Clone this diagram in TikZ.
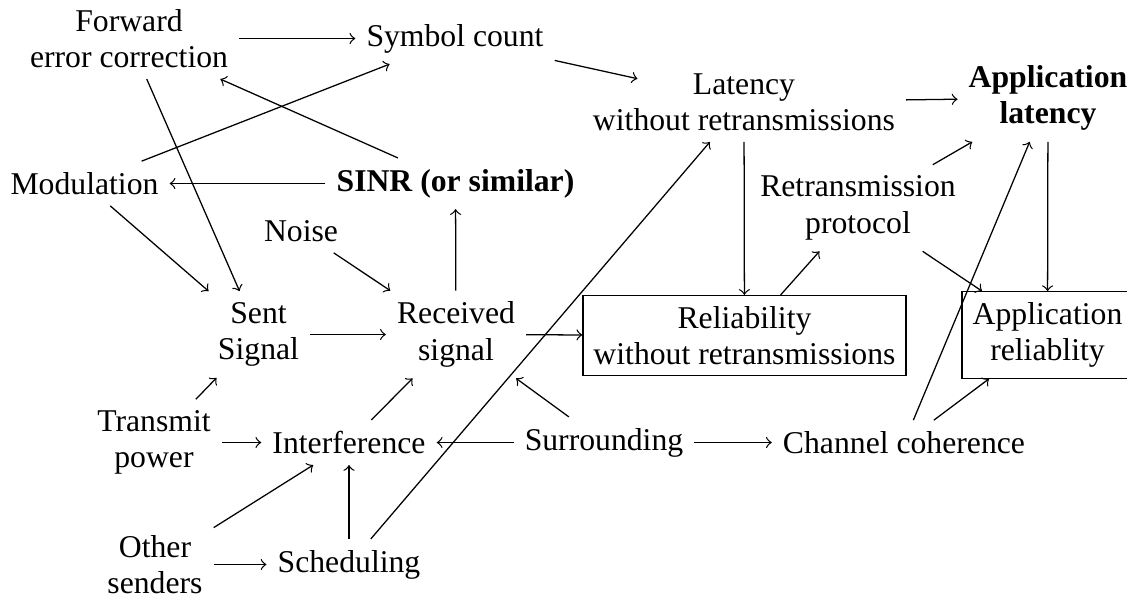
\documentclass[tikz,border=0pt]{standalone}
\usepackage{fontspec}
\setmainfont{Liberation Serif}
\begin{document}
\begin{tikzpicture}[x=0.31546pt,y=-0.31546pt,
  every node/.style={font=\fontsize{10}{11.5}\selectfont, align=center, inner sep=3.33pt},
  boxed/.style={draw, line width=0.4pt},
  strong/.style={font=\fontsize{10}{11.5}\selectfont\bfseries},
  conn/.style={->, line width=0.4pt}]
\useasboundingbox (0,0) rectangle (1127,597);
\node (fec) at (129,38.5) {Forward\\error correction};
\node (sym) at (455,38.5) {Symbol count};
\node (lat) at (744,102) {Latency\\without retransmissions};
\node[strong] (applat) at (1048,98) {Application\\latency};
\node (mod) at (84.5,183.5) {Modulation};
\node[strong] (sinr) at (455.5,183.5) {SINR (or similar)};
\node (retr) at (858,208) {Retransmission\\protocol};
\node (noise) at (301,231) {Noise};
\node (sent) at (258.5,334.5) {Sent\\Signal};
\node (recv) at (456,334.5) {Received\\signal};
\node[boxed] (rel) at (744.5,335.5) {Reliability\\without retransmissions};
\node[boxed] (apprel) at (1047.5,335) {Application\\reliablity};
\node (tpow) at (154,442.5) {Transmit\\power};
\node (intf) at (349,442.5) {Interference};
\node (surr) at (604,442.5) {Surrounding};
\node (chan) at (904,442.5) {Channel coherence};
\node (other) at (155,564.5) {Other\\senders};
\node (sched) at (349,564.5) {Scheduling};

\draw[conn] (fec) -- (sym);
\draw[conn] (mod) -- (sym);
\draw[conn] (sinr) -- (fec);
\draw[conn] (sinr) -- (mod);
\draw[conn] (fec) -- (sent);
\draw[conn] (mod) -- (sent);
\draw[conn] (noise) -- (recv);
\draw[conn] (sent) -- (recv);
\draw[conn] (recv) -- (sinr);
\draw[conn] (recv) -- (rel);
\draw[conn] (tpow) -- (sent);
\draw[conn] (tpow) -- (intf);
\draw[conn] (intf) -- (recv);
\draw[conn] (surr) -- (intf);
\draw[conn] (surr) -- (recv);
\draw[conn] (surr) -- (chan);
\draw[conn] (other) -- (intf);
\draw[conn] (other) -- (sched);
\draw[conn] (sched) -- (intf);
\draw[conn] (sched) -- (lat);
\draw[conn, shorten >=-18pt] (sym) -- (lat);
\draw[conn] (lat) -- (applat);
\draw[conn] (lat) -- (rel);
\draw[conn] (rel) -- (retr);
\draw[conn] (retr) -- (applat);
\draw[conn] (retr) -- (apprel);
\draw[conn] (applat) -- (apprel);
\draw[conn] (chan) -- (applat);
\draw[conn] (chan) -- (apprel);
\end{tikzpicture}
\end{document}
